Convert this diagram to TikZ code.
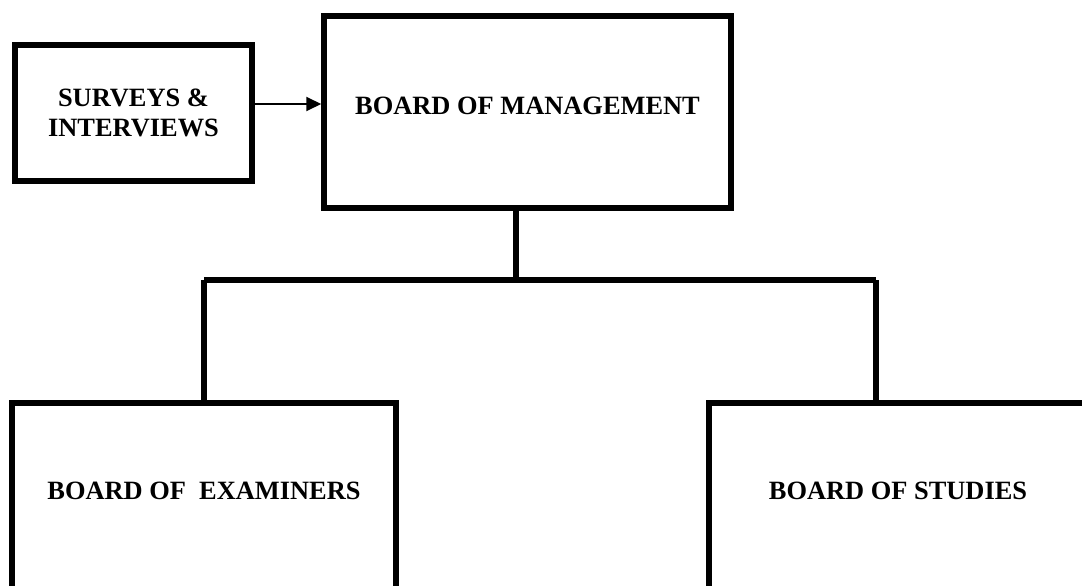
\documentclass[tikz,border=0pt]{standalone}
\usepackage{fontspec}
\setmainfont{Liberation Serif}
\usetikzlibrary{arrows.meta}

\tikzset{
  boardbox/.style={draw, line width=5.5pt, inner sep=0pt, align=center,
    font=\bfseries\fontsize{26.4}{30}\selectfont},
  link/.style={line width=5.5pt},
}

\begin{document}
\begin{tikzpicture}[x=1pt,y=1pt,yscale=-1,xscale=1]
%set diagram left start at 0, and has height of 586
\useasboundingbox (0,0) rectangle (1082,586);
\clip (0,0) rectangle (1082,586);

% Box Node
\node [boardbox, minimum width=237pt, minimum height=136pt] (surv) at (133.5,113) {SURVEYS \&\\INTERVIEWS};
% Box Node
\node [boardbox, minimum width=407pt, minimum height=192pt, text depth=12pt] (mgmt) at (527.5,112) {BOARD OF MANAGEMENT};
% Box Node
\node [boardbox, minimum width=384pt, minimum height=190pt, text depth=14pt, anchor=north] (exb) at (204,400) {BOARD OF~ EXAMINERS};
% Box Node
\node [boardbox, minimum width=378pt, minimum height=190pt, text depth=14pt, anchor=north] (stb) at (898,400) {BOARD OF STUDIES};

% Junctions
\coordinate (arr) at (290,104);
\coordinate (jm) at (516,280);
\coordinate (jl) at (204,280);
\coordinate (jr) at (876,280);

% Connection
\draw [line width=2pt, -{Triangle[length=15pt,width=14pt]}] (surv.east |- arr) -- (mgmt.west |- arr) ;
% Connection
\draw [link] (mgmt.south -| jm) -- (jm) ;
% Connection
\draw [link] (jl) -- (jr) ;
% Connection
\draw [link] (jl) -- (exb.north) ;
% Connection
\draw [link] (jr) -- (jr |- stb.north) ;

\end{tikzpicture}
\end{document}
